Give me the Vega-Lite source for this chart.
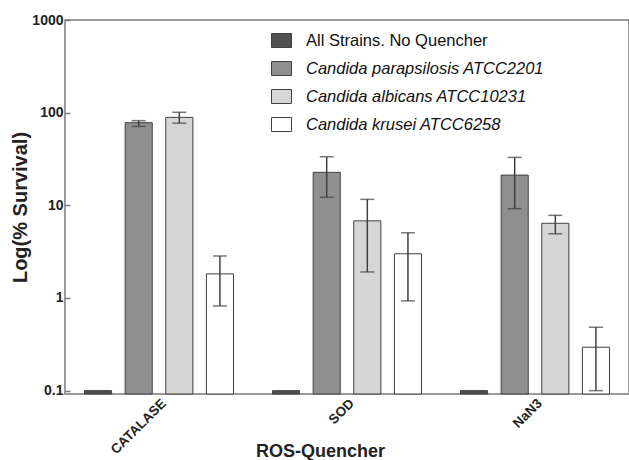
{
  "$schema": "https://vega.github.io/schema/vega-lite/v6.json",
  "width": 564,
  "height": 374,
  "autosize": "none",
  "padding": {"left": 65, "top": 20, "right": 0, "bottom": 66},
  "background": "white",
  "config": {
    "font": "Liberation Sans",
    "view": {"stroke": "#7a7a7a", "strokeWidth": 1.5}
  },
  "data": {
    "values": [
      {"quencher": "CATALASE", "strain": "All Strains. No Quencher", "value": 0.1},
      {"quencher": "CATALASE", "strain": "Candida parapsilosis ATCC2201", "value": 78, "lo": 71, "hi": 82},
      {"quencher": "CATALASE", "strain": "Candida albicans ATCC10231", "value": 89, "lo": 77, "hi": 101},
      {"quencher": "CATALASE", "strain": "Candida krusei ATCC6258", "value": 1.82, "lo": 0.82, "hi": 2.84},
      {"quencher": "SOD", "strain": "All Strains. No Quencher", "value": 0.1},
      {"quencher": "SOD", "strain": "Candida parapsilosis ATCC2201", "value": 22.7, "lo": 12.2, "hi": 33.4},
      {"quencher": "SOD", "strain": "Candida albicans ATCC10231", "value": 6.8, "lo": 1.91, "hi": 11.6},
      {"quencher": "SOD", "strain": "Candida krusei ATCC6258", "value": 3.0, "lo": 0.93, "hi": 5.06},
      {"quencher": "NaN3", "strain": "All Strains. No Quencher", "value": 0.1},
      {"quencher": "NaN3", "strain": "Candida parapsilosis ATCC2201", "value": 21.2, "lo": 9.2, "hi": 32.9},
      {"quencher": "NaN3", "strain": "Candida albicans ATCC10231", "value": 6.4, "lo": 4.93, "hi": 7.8},
      {"quencher": "NaN3", "strain": "Candida krusei ATCC6258", "value": 0.294, "lo": 0.1, "hi": 0.483}
    ]
  },
  "encoding": {
    "x": {
      "field": "quencher",
      "type": "nominal",
      "sort": ["CATALASE", "SOD", "NaN3"],
      "scale": {"paddingInner": 0, "paddingOuter": 0},
      "axis": {
        "title": "ROS-Quencher",
        "titleFontSize": 18,
        "titleFontWeight": "bold",
        "titleColor": "#222",
        "titleX": 255,
        "titleY": 62,
        "titleAlign": "center",
        "titleBaseline": "alphabetic",
        "labelAngle": -45,
        "labelFontSize": 13.5,
        "labelFontWeight": "bold",
        "labelColor": "#222",
        "labelPadding": 2,
        "ticks": false,
        "domain": false
      }
    },
    "xOffset": {
      "field": "strain",
      "type": "nominal",
      "scale": {
        "domain": ["All Strains. No Quencher", "Candida parapsilosis ATCC2201", "Candida albicans ATCC10231", "Candida krusei ATCC6258"],
        "paddingInner": 0.333,
        "paddingOuter": 0.48
      }
    }
  },
  "layer": [
    {
      "mark": {"type": "bar", "stroke": "#404040", "strokeWidth": 1},
      "encoding": {
        "y": {
          "field": "value",
          "type": "quantitative",
          "scale": {"type": "log", "domain": [0.092, 1000], "nice": false},
          "axis": {
            "title": "Log(% Survival)",
            "titleFontSize": 20,
            "titleFontWeight": "bold",
            "titleColor": "#222",
            "titleAngle": -90,
            "titleX": -45,
            "titleY": 187,
            "titleAlign": "center",
            "titleBaseline": "middle",
            "values": [0.1, 1, 10, 100, 1000],
            "format": "~g",
            "labelFontSize": 14,
            "labelFontWeight": "bold",
            "labelColor": "#222",
            "labelPadding": 7,
            "tickSize": -5,
            "tickColor": "#7a7a7a",
            "tickWidth": 1.5,
            "domain": false,
            "grid": false
          }
        },
        "y2": {"datum": 0.092},
        "fill": {
          "field": "strain",
          "type": "nominal",
          "scale": {
            "domain": ["All Strains. No Quencher", "Candida parapsilosis ATCC2201", "Candida albicans ATCC10231", "Candida krusei ATCC6258"],
            "range": ["#505050", "#8f8f8f", "#d6d6d6", "#ffffff"]
          },
          "legend": {
            "title": null,
            "orient": "none",
            "legendX": 206,
            "legendY": 10,
            "symbolType": "M-1,-0.7H1V0.7H-1Z",
            "symbolSize": 400,
            "symbolStrokeColor": "#404040",
            "symbolStrokeWidth": 1,
            "labelFontSize": 16.5,
            "labelColor": "#111",
            "labelOffset": 14,
            "labelLimit": 400,
            "rowPadding": 8,
            "encode": {
              "labels": {
                "update": {
                  "fontStyle": {"signal": "indexof(datum.label, 'Candida') === 0 ? 'italic' : 'normal'"}
                }
              }
            }
          }
        }
      }
    },
    {
      "mark": {"type": "rule", "color": "#404040", "strokeWidth": 1.5},
      "encoding": {
        "y": {"field": "lo", "type": "quantitative"},
        "y2": {"field": "hi"}
      }
    },
    {
      "mark": {"type": "tick", "color": "#404040", "thickness": 1.5, "size": 14},
      "encoding": {
        "y": {"field": "lo", "type": "quantitative"}
      }
    },
    {
      "mark": {"type": "tick", "color": "#404040", "thickness": 1.5, "size": 14},
      "encoding": {
        "y": {"field": "hi", "type": "quantitative"}
      }
    }
  ]
}
